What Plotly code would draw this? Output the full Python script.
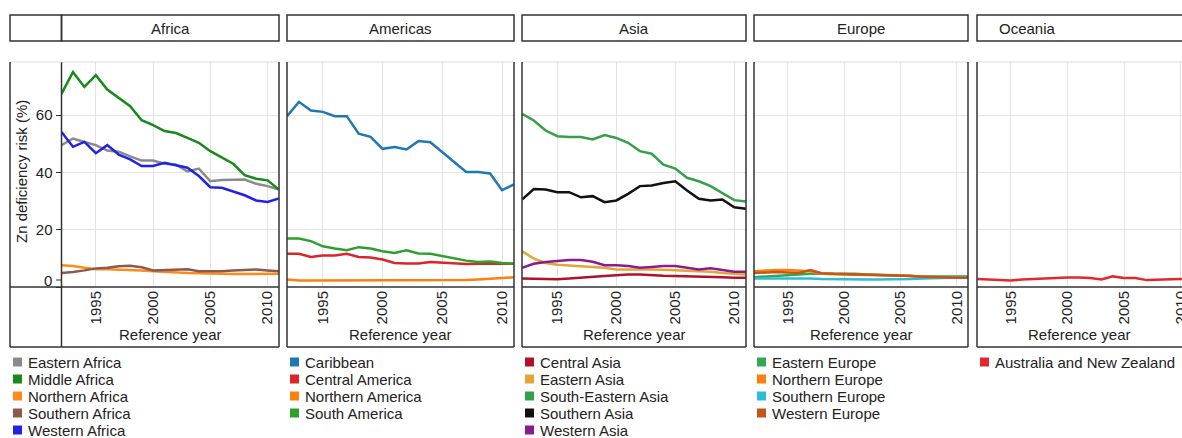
import plotly.graph_objects as go

W, H = 1182, 438

years = list(range(1992, 2012))

# ---- Africa ----
africa_names = ["Eastern Africa", "Middle Africa", "Northern Africa", "Southern Africa", "Western Africa"]
africa_colors = ["#8a8a8a", "#178a1b", "#ff8a1c", "#8c5a4b", "#2222e6"]
eastern_africa = [49.5, 51.8, 50.6, 49.5, 47.6, 47.2, 45.6, 44.1, 44.1, 43.0, 42.7, 40.3, 41.3, 36.9, 37.3, 37.5, 37.5, 36.0, 35.2, 34.0]
middle_africa = [67.4, 75.0, 69.8, 73.9, 68.9, 66.0, 63.1, 58.2, 56.5, 54.4, 53.7, 52.0, 50.3, 47.4, 45.3, 43.0, 39.0, 37.8, 37.2, 34.0]
northern_africa = [7.6, 7.3, 6.7, 6.2, 6.2, 6.1, 5.8, 5.8, 5.5, 5.3, 4.9, 4.9, 4.8, 4.8, 4.6, 4.5, 4.5, 4.6, 4.7, 4.6]
southern_africa = [4.9, 5.2, 5.8, 6.5, 6.7, 7.2, 7.4, 6.9, 5.8, 6.0, 6.2, 6.2, 5.5, 5.5, 5.5, 5.8, 6.0, 6.1, 5.8, 5.5]
western_africa = [54.1, 48.9, 50.6, 46.7, 49.5, 46.2, 44.5, 42.2, 42.2, 43.3, 42.5, 41.6, 38.7, 34.8, 34.6, 33.4, 32.0, 30.2, 29.7, 30.9]

# ---- Americas ----
americas_names = ["Caribbean", "Central America", "Northern America", "South America"]
americas_colors = ["#1f77b4", "#d8262b", "#ff7f0e", "#2ca02c"]
caribbean = [59.6, 64.6, 61.6, 61.1, 59.6, 59.6, 53.5, 52.4, 48.2, 48.8, 48.0, 50.9, 50.5, 47.0, 43.5, 40.1, 40.1, 39.6, 33.8, 35.8]
central_america = [11.6, 11.6, 10.5, 11.0, 11.0, 11.6, 10.5, 10.3, 9.6, 8.4, 8.2, 8.2, 8.7, 8.5, 8.2, 8.0, 8.1, 8.2, 8.2, 8.1]
northern_america = [2.6, 2.3, 2.3, 2.3, 2.2, 2.2, 2.2, 2.2, 2.2, 2.2, 2.2, 2.2, 2.3, 2.4, 2.4, 2.4, 2.6, 2.8, 3.0, 3.4]
south_america = [16.9, 16.9, 16.0, 14.2, 13.4, 12.8, 13.9, 13.4, 12.5, 11.9, 12.8, 11.7, 11.6, 10.8, 9.9, 9.2, 8.7, 8.9, 8.4, 8.1]

# ---- Asia ----
asia_names = ["Central Asia", "Eastern Asia", "South-Eastern Asia", "Southern Asia", "Western Asia"]
asia_colors = ["#b0122a", "#e3a535", "#35a04a", "#111111", "#8a1c8f"]
central_asia = [3.0, 2.9, 2.7, 2.7, 3.0, 3.2, 3.4, 3.8, 4.1, 4.4, 4.4, 4.1, 3.9, 3.8, 3.7, 3.7, 3.7, 3.4, 3.2, 3.2]
eastern_asia = [12.5, 9.9, 8.4, 7.8, 7.5, 7.3, 7.0, 6.7, 6.1, 6.1, 6.3, 6.1, 6.0, 5.8, 5.8, 5.5, 5.3, 4.9, 4.6, 4.4]
south_eastern_asia = [60.4, 58.1, 54.6, 52.6, 52.3, 52.3, 51.5, 53.0, 52.0, 50.3, 47.4, 46.5, 42.7, 41.3, 38.1, 36.9, 35.2, 32.8, 30.3, 29.8]
southern_asia = [30.5, 34.2, 34.0, 33.1, 33.1, 31.3, 31.7, 29.6, 30.2, 32.5, 35.2, 35.4, 36.3, 36.9, 33.7, 30.8, 30.2, 30.5, 27.8, 27.3]
western_asia = [6.7, 8.1, 8.7, 9.0, 9.4, 9.4, 8.8, 7.6, 7.6, 7.3, 6.7, 7.0, 7.3, 7.3, 6.7, 6.1, 6.5, 5.8, 5.3, 5.3]

# ---- Europe ----
europe_names = ["Eastern Europe", "Northern Europe", "Southern Europe", "Western Europe"]
europe_colors = ["#33a853", "#ff7f0e", "#2bbcd6", "#c4561a"]
eastern_europe = [3.4, 3.7, 3.9, 4.1, 4.4, 4.6, 4.6, 4.7, 4.7, 4.6, 4.4, 4.2, 4.2, 4.0, 3.8, 3.7, 3.7, 3.7, 3.7, 3.7]
northern_europe = [5.5, 5.8, 5.9, 5.9, 5.8, 5.5, 4.6, 4.4, 4.4, 4.3, 4.3, 4.2, 4.2, 4.1, 3.8, 3.4, 3.2, 3.2, 3.2, 3.2]
southern_europe = [3.0, 3.0, 3.2, 3.2, 3.2, 3.0, 2.8, 2.7, 2.6, 2.6, 2.6, 2.6, 2.6, 2.7, 2.8, 3.0, 3.1, 3.2, 3.3, 3.4]
western_europe = [4.9, 5.1, 5.2, 5.1, 4.9, 5.9, 4.8, 4.6, 4.5, 4.4, 4.4, 4.3, 4.2, 4.0, 3.8, 3.6, 3.4, 3.3, 3.2, 3.2]

# ---- Oceania ----
oceania_names = ["Australia and New Zealand"]
oceania_colors = ["#e0282e"]
australia_nz = [2.8, 2.6, 2.4, 2.3, 2.6, 2.8, 3.1, 3.1, 3.3, 3.3, 3.1, 2.6, 3.7, 3.1, 3.1, 2.4, 2.6, 2.8, 2.8, 2.8]

x_ticks = [1995, 2000, 2005, 2010]
y_ticks = [0, 20, 40, 60]
y_tick_text = ["", "20", "40", "60"]   # "0" drawn separately, nudged above the axis line

regions = ["Africa", "Americas", "Asia", "Europe", "Oceania"]
region_series = [
    (africa_names, africa_colors, [eastern_africa, middle_africa, northern_africa, southern_africa, western_africa]),
    (americas_names, americas_colors, [caribbean, central_america, northern_america, south_america]),
    (asia_names, asia_colors, [central_asia, eastern_asia, south_eastern_asia, southern_asia, western_asia]),
    (europe_names, europe_colors, [eastern_europe, northern_europe, southern_europe, western_europe]),
    (oceania_names, oceania_colors, [australia_nz]),
]

# layout geometry (pixels)
panel_px = [(61.5, 279), (287, 514), (522, 746), (754, 968), (977, 1182)]
legend_left = [10, 287, 522, 754, 977]
x_ranges = [[1992, 2011], [1992, 2011], [1992, 2011], [1992, 2011], [1992, 2010.12]]
header_text_x = [170, 400, 634, 861, 1027]
TOP, AXIS, BOTTOM = 62, 287, 347
HEAD_T, HEAD_B = 15, 41
FONT = "Liberation Sans, Arial, sans-serif"
FS = 15
DARK = "#333333"
TXT = "#222222"
GRID = "#e3e3e3"


def fx(p):
    return p / W


def fy(p):
    return 1 - p / H


fig = go.Figure()
layout = dict(
    width=W, height=H, autosize=False, margin=dict(l=0, r=0, t=0, b=0, pad=0),
    paper_bgcolor="white", plot_bgcolor="white", showlegend=False,
    font=dict(family=FONT, size=FS, color=TXT),
)

shapes = []
annotations = []


def hline(x0, x1, y, color=DARK, width=1.5):
    shapes.append(dict(type="line", xref="paper", yref="paper", x0=fx(x0), x1=fx(x1),
                       y0=fy(y), y1=fy(y), line=dict(color=color, width=width)))


def vline(x, y0, y1, color=DARK, width=1.5):
    shapes.append(dict(type="line", xref="paper", yref="paper", x0=fx(x), x1=fx(x),
                       y0=fy(y0), y1=fy(y1), line=dict(color=color, width=width)))


for i, (region, (L, R)) in enumerate(zip(regions, panel_px)):
    n = "" if i == 0 else str(i + 1)
    names, colors, series = region_series[i]
    for name, color, vals in zip(names, colors, series):
        fig.add_trace(go.Scatter(x=years, y=vals, mode="lines", name=name,
                                 line=dict(color=color, width=2.5),
                                 xaxis="x" + n, yaxis="y" + n))
    layout["xaxis" + n] = dict(
        domain=[fx(L), fx(R)], range=x_ranges[i], anchor="y" + n, automargin=False,
        tickvals=x_ticks, tickangle=-90, ticks="", showline=False, zeroline=False,
        showgrid=True, gridcolor=GRID, gridwidth=1, ticklabeloverflow="allow",
        tickfont=dict(size=FS, color=TXT, family=FONT),
    )
    layout["yaxis" + n] = dict(
        domain=[fy(AXIS), fy(TOP)], range=[0, 78.5], anchor="x" + n, automargin=False,
        tickvals=y_ticks, ticktext=y_tick_text, showticklabels=(i == 0),
        ticks=("outside" if i == 0 else ""),
        ticklen=5, tickcolor=DARK, showline=False, zeroline=False,
        showgrid=True, gridcolor=GRID, gridwidth=1,
        tickfont=dict(size=FS, color=TXT, family=FONT),
    )

    Rb = R if i < 4 else 1195
    # frame lines
    hline(L, Rb, TOP, color="#dddddd", width=1)
    vline(L, TOP, BOTTOM)
    if i < 4:
        vline(R, TOP, BOTTOM)
    hline(L, Rb, AXIS)
    hline(L, Rb, BOTTOM)
    # header box
    shapes.append(dict(type="rect", xref="paper", yref="paper", x0=fx(L), x1=fx(Rb),
                       y0=fy(HEAD_B), y1=fy(HEAD_T), line=dict(color=DARK, width=1.5)))
    annotations.append(dict(text=region, xref="paper", yref="paper", x=fx(header_text_x[i]),
                            y=fy((HEAD_T + HEAD_B) / 2), showarrow=False, xanchor="center",
                            yanchor="middle", font=dict(size=FS, color=TXT)))
    # x axis title
    annotations.append(dict(text="Reference year", xref="paper", yref="paper",
                            x=fx((L + R) / 2), y=fy(334), showarrow=False,
                            xanchor="center", yanchor="middle", font=dict(size=FS, color=TXT)))
    # legend block: swatch + label for every series of the region
    LL = legend_left[i]
    for j, (name, color) in enumerate(zip(names, colors)):
        yc = 362 + 17 * j
        shapes.append(dict(type="rect", xref="paper", yref="paper",
                           x0=fx(LL + 3), x1=fx(LL + 12), y0=fy(yc + 4.5), y1=fy(yc - 4.5),
                           fillcolor=color, line=dict(width=0)))
        annotations.append(dict(
            text=name, xref="paper", yref="paper", x=fx(LL + 16), y=fy(yc),
            showarrow=False, xanchor="left", yanchor="middle",
            font=dict(size=FS, color=TXT)))

# left column (y-axis cell)
hline(10, 61.5, TOP, color="#dddddd", width=1)
vline(10, TOP, BOTTOM)
hline(10, 61.5, AXIS)
hline(10, 61.5, BOTTOM)
shapes.append(dict(type="rect", xref="paper", yref="paper", x0=fx(10), x1=fx(61.5),
                   y0=fy(HEAD_B), y1=fy(HEAD_T), line=dict(color=DARK, width=1.5)))
annotations.append(dict(text="Zn deficiency risk (%)", xref="paper", yref="paper",
                        x=fx(21), y=fy(172), textangle=-90, showarrow=False,
                        xanchor="center", yanchor="middle", font=dict(size=FS, color=TXT)))
# "0" tick label, nudged just above the axis line as in the original
annotations.append(dict(text=str(y_ticks[0]), xref="paper", yref="paper",
                        x=fx(54), y=fy(280), showarrow=False, xanchor="right",
                        yanchor="middle", font=dict(size=FS, color=TXT)))
shapes.append(dict(type="line", xref="paper", yref="paper", x0=fx(56), x1=fx(61.5),
                   y0=fy(280), y1=fy(280), line=dict(color=DARK, width=1)))

layout["shapes"] = shapes
layout["annotations"] = annotations
fig.update_layout(**layout)
fig.write_html("out.html")
